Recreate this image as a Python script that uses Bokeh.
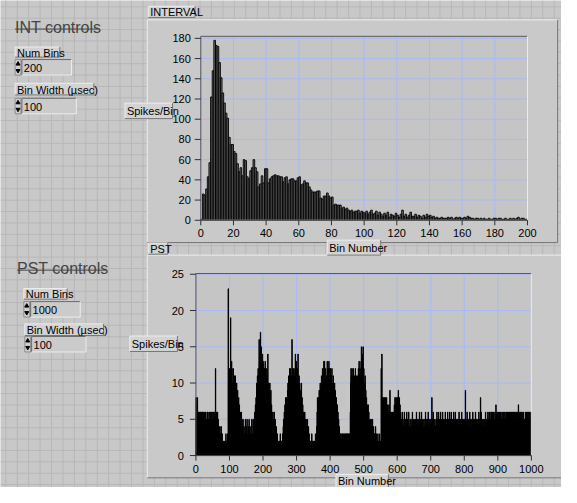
import numpy as np
from bokeh.plotting import figure
from bokeh.models import Range1d
from bokeh.core.properties import value
from bokeh.embed import file_html
from bokeh.resources import INLINE

# ---------------- data ----------------
int_counts = [
    1, 26, 25, 31, 43, 57, 122, 148, 178, 173,
    172, 156, 141, 126, 116, 106, 101, 82, 75, 75,
    68, 66, 56, 48, 52, 44, 60, 59, 43, 41,
    49, 52, 60, 52, 48, 33, 36, 44, 37, 51,
    51, 37, 41, 43, 44, 45, 44, 44, 43, 43,
    38, 42, 43, 36, 40, 41, 41, 39, 39, 42,
    43, 35, 36, 39, 37, 37, 33, 30, 28, 28,
    28, 29, 29, 22, 21, 24, 24, 27, 24, 22,
    23, 15, 16, 15, 15, 15, 12, 13, 11, 12,
    10, 9, 10, 8, 9, 9, 10, 7, 9, 8,
    7, 9, 6, 8, 10, 6, 7, 9, 5, 8,
    6, 4, 7, 5, 8, 3, 6, 5, 4, 7,
    5, 3, 6, 10, 4, 6, 3, 5, 8, 4,
    4, 6, 3, 5, 4, 2, 5, 3, 6, 4,
    5, 3, 4, 2, 3, 2, 2, 3, 2, 2,
    2, 3, 2, 3, 1, 2, 3, 2, 3, 2,
    2, 3, 2, 4, 3, 2, 2, 1, 2, 2,
    1, 2, 1, 2, 1, 1, 2, 1, 1, 2,
    2, 1, 2, 2, 1, 1, 2, 1, 1, 2,
    1, 2, 1, 2, 3, 1, 2, 2, 1, 1,
]

pst_counts = [
    8, 6, 7, 5, 8, 6, 4, 6, 6, 5, 6, 4, 6, 5, 6, 3, 6, 5, 4, 6,
    6, 5, 4, 6, 3, 5, 6, 4, 6, 5, 4, 3, 5, 6, 4, 6, 5, 3, 4, 6,
    5, 4, 6, 3, 5, 4, 6, 5, 2, 4, 6, 5, 3, 6, 4, 5, 6, 4, 12, 5,
    6, 4, 5, 3, 6, 4, 5, 2, 4, 3, 2, 4, 1, 3, 2, 4, 1, 2, 3, 1,
    1, 2, 1, 1, 2, 1, 1, 2, 1, 3, 1, 2, 1, 1, 3, 2, 23, 10, 11, 9,
    12, 10, 8, 19, 11, 10, 13, 12, 8, 10, 9, 12, 8, 10, 11, 9, 8, 11, 10, 8,
    7, 10, 8, 6, 9, 7, 6, 8, 5, 7, 6, 5, 6, 4, 5, 6, 3, 5, 2, 4,
    5, 3, 2, 4, 1, 3, 2, 5, 1, 2, 4, 2, 5, 1, 3, 2, 4, 1, 5, 3,
    2, 4, 1, 3, 1, 2, 5, 3, 1, 2, 5, 4, 5, 3, 5, 6, 5, 7, 6, 8,
    8, 10, 9, 11, 8, 12, 10, 9, 16, 13, 12, 10, 17, 11, 15, 12, 13, 11, 14, 12,
    13, 11, 12, 10, 12, 11, 13, 9, 10, 12, 10, 8, 11, 9, 14, 10, 8, 10, 7, 9,
    10, 8, 6, 9, 5, 7, 6, 4, 5, 6, 3, 5, 4, 6, 3, 2, 5, 2, 3, 4,
    2, 1, 3, 1, 2, 1, 2, 1, 1, 2, 1, 3, 1, 2, 1, 1, 2, 1, 3, 1,
    4, 5, 3, 6, 5, 7, 4, 8, 6, 5, 8, 7, 6, 9, 10, 8, 11, 9, 10, 12,
    11, 9, 12, 10, 8, 11, 16, 10, 9, 12, 11, 10, 12, 9, 11, 10, 14, 12, 9, 13,
    11, 10, 12, 9, 14, 10, 8, 11, 9, 10, 8, 9, 7, 8, 10, 6, 8, 5, 7, 6,
    5, 6, 4, 5, 6, 3, 5, 4, 5, 3, 4, 2, 5, 3, 2, 4, 1, 3, 2, 1,
    2, 1, 1, 2, 1, 3, 1, 1, 2, 1, 1, 2, 1, 2, 1, 1, 3, 1, 2, 1,
    4, 6, 8, 5, 7, 8, 6, 9, 7, 8, 10, 7, 9, 8, 11, 9, 10, 12, 9, 11,
    10, 13, 9, 13, 11, 10, 12, 9, 11, 8, 10, 13, 9, 11, 12, 10, 13, 11, 9, 12,
    10, 12, 9, 11, 10, 12, 8, 10, 9, 11, 10, 8, 9, 10, 7, 9, 8, 6, 8, 7,
    6, 7, 5, 6, 4, 5, 3, 4, 3, 2, 3, 2, 3, 2, 2, 3, 2, 3, 1, 2,
    3, 2, 2, 3, 2, 3, 2, 2, 3, 2, 3, 2, 3, 2, 2, 3, 2, 3, 2, 3,
    6, 10, 12, 11, 9, 12, 10, 8, 11, 12, 10, 9, 11, 10, 8, 12, 9, 10, 11, 9,
    10, 8, 11, 9, 12, 10, 13, 11, 9, 12, 10, 11, 13, 15, 12, 10, 14, 11, 15, 12,
    12, 9, 10, 8, 11, 7, 9, 6, 8, 5, 7, 6, 4, 7, 5, 6, 4, 5, 3, 5,
    4, 3, 5, 2, 4, 3, 5, 2, 3, 4, 2, 3, 1, 3, 2, 4, 1, 3, 2, 2,
    2, 1, 3, 0, 1, 2, 1, 3, 1, 2, 1, 2, 12, 3, 14, 6, 8, 7, 8, 6,
    7, 8, 6, 7, 8, 5, 7, 6, 8, 5, 6, 7, 4, 6, 5, 7, 5, 6, 9, 5,
    6, 5, 4, 6, 5, 3, 6, 4, 5, 6, 4, 7, 5, 8, 7, 6, 8, 7, 5, 8,
    7, 8, 6, 9, 7, 6, 8, 5, 7, 4, 6, 5, 3, 5, 4, 6, 3, 5, 4, 2,
    4, 6, 3, 5, 2, 4, 5, 3, 6, 4, 2, 5, 3, 4, 6, 2, 4, 3, 5, 4,
    3, 5, 2, 4, 3, 6, 4, 2, 5, 3, 4, 5, 2, 4, 3, 5, 3, 6, 2, 4,
    5, 3, 4, 2, 5, 3, 6, 4, 3, 5, 2, 4, 6, 3, 5, 4, 2, 5, 3, 4,
    4, 2, 5, 3, 6, 4, 3, 5, 2, 4, 5, 3, 6, 2, 4, 3, 5, 4, 2, 5,
    3, 5, 4, 8, 5, 3, 4, 6, 3, 5, 4, 2, 5, 3, 4, 4, 5, 3, 6, 2,
    4, 5, 3, 6, 2, 4, 5, 3, 4, 6, 2, 5, 3, 4, 2, 6, 3, 5, 4, 3,
    5, 3, 4, 6, 3, 5, 2, 4, 5, 3, 6, 4, 2, 5, 3, 4, 6, 3, 5, 4,
    4, 6, 3, 5, 2, 4, 5, 3, 6, 4, 3, 5, 2, 6, 4, 3, 5, 4, 2, 5,
    3, 5, 4, 2, 6, 3, 5, 4, 3, 5, 2, 4, 6, 3, 5, 2, 4, 3, 5, 4,
    5, 3, 4, 9, 2, 5, 3, 4, 6, 3, 5, 4, 2, 5, 3, 4, 6, 3, 5, 2,
    4, 3, 5, 4, 2, 6, 3, 5, 4, 3, 5, 2, 4, 6, 3, 5, 4, 2, 5, 3,
    3, 5, 4, 6, 3, 5, 2, 4, 8, 3, 6, 4, 3, 5, 2, 4, 5, 3, 4, 4,
    5, 3, 4, 6, 3, 5, 4, 2, 5, 4, 6, 3, 5, 4, 6, 5, 3, 5, 4, 6,
    4, 6, 5, 3, 6, 4, 5, 6, 3, 5, 4, 6, 5, 3, 7, 6, 5, 3, 6, 5,
    5, 4, 6, 3, 5, 6, 4, 5, 6, 3, 5, 4, 6, 5, 3, 6, 4, 5, 6, 4,
    5, 6, 4, 5, 3, 6, 5, 4, 6, 5, 4, 6, 3, 5, 6, 4, 5, 6, 4, 5,
    6, 4, 5, 3, 6, 5, 4, 6, 5, 4, 6, 5, 3, 6, 4, 5, 6, 4, 5, 6,
    5, 7, 4, 6, 5, 3, 6, 4, 5, 6, 4, 5, 6, 3, 5, 4, 6, 5, 4, 5,
    5, 4, 6, 3, 5, 6, 4, 5, 6, 4, 5, 3, 6, 4, 5, 6, 4, 5, 6, 6,
]

int_x_ticks = [0, 20, 40, 60, 80, 100, 120, 140, 160, 180, 200]
int_y_ticks = [0, 20, 40, 60, 80, 100, 120, 140, 160, 180]
pst_x_ticks = [0, 100, 200, 300, 400, 500, 600, 700, 800, 900, 1000]
pst_y_ticks = [0, 5, 10, 15, 20, 25]

int_num_bins = "200"
int_bin_width = "100"
pst_num_bins = "1000"
pst_bin_width = "100"

# ---------------- styles ----------------
FONT = "Liberation Sans"
PANEL = "#c8c8c8"
TEXTURE = "#b7b7b7"
BOX = "#c9c9c9"
PLOT_BG = "#c5c5c5"
GRID = "#a9b9f3"
LIGHT = "#ededed"
DARK = "#767676"

# whole front panel: one figure whose data units are panel pixels
p = figure(width=561, height=487, x_range=Range1d(0, 577), y_range=Range1d(503, 0),
           x_axis_type=None, y_axis_type=None, toolbar_location=None,
           output_backend="svg", min_border=0, min_border_left=0, min_border_right=0,
           min_border_top=0, min_border_bottom=0, outline_line_color=None,
           background_fill_color=PANEL, border_fill_color=PANEL)

# panel texture
tx = np.arange(5.5, 577, 11.75)
ty = np.arange(6.5, 503, 11.75)
p.segment(x0=tx, y0=0, x1=tx, y1=503, line_color=TEXTURE, line_width=1)
p.segment(x0=0, y0=ty, x1=577, y1=ty, line_color=TEXTURE, line_width=1)


def raised_box(x0, x1, y0, y1, fill):
    p.quad(left=x0, right=x1, top=y0, bottom=y1, fill_color=fill, line_color=None)
    p.segment(x0=[x0, x0], y0=[y0, y0], x1=[x1, x0], y1=[y0, y1], line_color=LIGHT, line_width=1)
    p.segment(x0=[x0, x1], y0=[y1, y0], x1=[x1, x1], y1=[y1, y1], line_color=DARK, line_width=1)


def label(x0, x1, y0, y1, txt, size="11px"):
    raised_box(x0, x1, y0, y1, "#d3d3d3")
    p.text(x=[x0 + 2], y=[(y0 + y1) / 2 + 0.5], text=[txt], text_font=value(FONT),
           text_font_size=size, text_baseline="middle", text_align="left", text_color="#000000")


def numeric(x0, x1, y0, y1, txt):
    p.quad(left=x0, right=x0 + 6, top=y0, bottom=y1, fill_color="#cfcfcf", line_color="#8c8c8c", line_width=1)
    p.scatter(x=[x0 + 3, x0 + 3], y=[y0 + 4.5, y1 - 4.5], marker=["triangle", "inverted_triangle"],
              size=4, fill_color="#000000", line_color="#000000")
    p.quad(left=x0 + 7, right=x1, top=y0, bottom=y1, fill_color="#cbcbcb", line_color=None)
    p.segment(x0=[x0 + 7, x0 + 7], y0=[y0, y0], x1=[x1, x0 + 7], y1=[y0, y1], line_color="#6a6a6a", line_width=1)
    p.segment(x0=[x0 + 7, x1], y0=[y1, y0], x1=[x1, x1], y1=[y1, y1], line_color=LIGHT, line_width=1)
    p.text(x=[x0 + 9], y=[(y0 + y1) / 2 + 0.5], text=[txt], text_font=value(FONT),
           text_font_size="11px", text_baseline="middle", text_align="left", text_color="#000000")


def section_title(x0, y_base, txt, underline_to):
    p.text(x=[x0], y=[y_base], text=[txt], text_font=value(FONT), text_font_size="16px",
           text_baseline="alphabetic", text_align="left", text_color="#454545")
    p.segment(x0=[x0], y0=[y_base + 2], x1=[underline_to], y1=[y_base + 2], line_color="#454545", line_width=1)


def chart(target_x, target_y, x_end, y_end, xticks, yticks, counts, fill, line, lw, ylab_off):
    s = p.subplot(x_source=Range1d(0, x_end), y_source=Range1d(0, y_end),
                  x_target=Range1d(*target_x), y_target=Range1d(*target_y))
    # plot area
    s.quad(left=0, right=x_end, bottom=0, top=y_end, fill_color=PLOT_BG, line_color=None)
    # grid
    s.segment(x0=xticks, y0=0, x1=xticks, y1=y_end, line_color=GRID, line_width=1)
    s.segment(x0=0, y0=yticks, x1=x_end, y1=yticks, line_color=GRID, line_width=1)
    # bars
    bins = np.arange(len(counts)) + 0.5
    s.vbar(x=bins, width=1, top=counts, bottom=0, fill_color=fill, line_color=line, line_width=lw)
    # frame
    s.segment(x0=[0, 0], y0=[0, y_end], x1=[0, x_end], y1=[y_end, y_end], line_color="#5a5a5a", line_width=1)
    s.segment(x0=[x_end, 0], y0=[0, 0], x1=[x_end, x_end], y1=[y_end, 0], line_color=LIGHT, line_width=1)
    s.segment(x0=[0], y0=[0], x1=[x_end], y1=[0], line_color="#3a3a3a", line_width=1)
    # ticks
    s.ray(x=xticks, y=0, length=5, length_units="screen", angle=-np.pi / 2, line_color="#303030", line_width=1)
    s.ray(x=0, y=yticks, length=6, length_units="screen", angle=np.pi, line_color="#303030", line_width=1)
    # tick labels
    s.text(x=xticks, y=0, text=[str(t) for t in xticks], y_offset=13, text_font=value(FONT),
           text_font_size="11px", text_baseline="middle", text_align="center", text_color="#000000")
    s.text(x=0, y=yticks, text=[str(t) for t in yticks], x_offset=ylab_off, text_font=value(FONT),
           text_font_size="11px", text_baseline="middle", text_align="right", text_color="#000000")


# graph boxes
raised_box(151, 573, 20, 250, BOX)
raised_box(151, 580, 263, 493, BOX)

chart((206, 542), (227, 37), 200, 182, int_x_ticks, int_y_ticks, int_counts,
      "#6c6c6c", "#000000", 0.9, -10)
chart((201, 546), (470, 282), 1000, 25.1, pst_x_ticks, pst_y_ticks, pst_counts,
      "#000000", "#000000", 1.0, -12)

# INT controls
section_title(15, 27.5, "INT controls", 100)
label(15, 61, 48, 58.5, "Num Bins")
numeric(15, 73, 61, 77, int_num_bins)
label(15, 96, 85.5, 97.5, "Bin Width (µsec)")
numeric(15, 78, 101, 117, int_bin_width)

# PST controls
section_title(17, 276.5, "PST controls", 108)
label(24, 68.5, 297.5, 308.5, "Num Bins")
numeric(24, 82, 311, 327, pst_num_bins)
label(25, 106, 334, 346, "Bin Width (µsec)")
numeric(25, 88, 347, 363, pst_bin_width)

# graph captions
label(152, 200, 6, 17.5, "INTERVAL")
label(152, 172, 250.5, 262, "PST")
label(128, 177, 106, 122, "Spikes/Bin")
label(336, 391, 247.5, 263, "Bin Number")
label(133, 182, 346.5, 362.5, "Spikes/Bin")
label(345, 399, 489.5, 503, "Bin Number")

open("out.html", "w").write(file_html(p, INLINE))
